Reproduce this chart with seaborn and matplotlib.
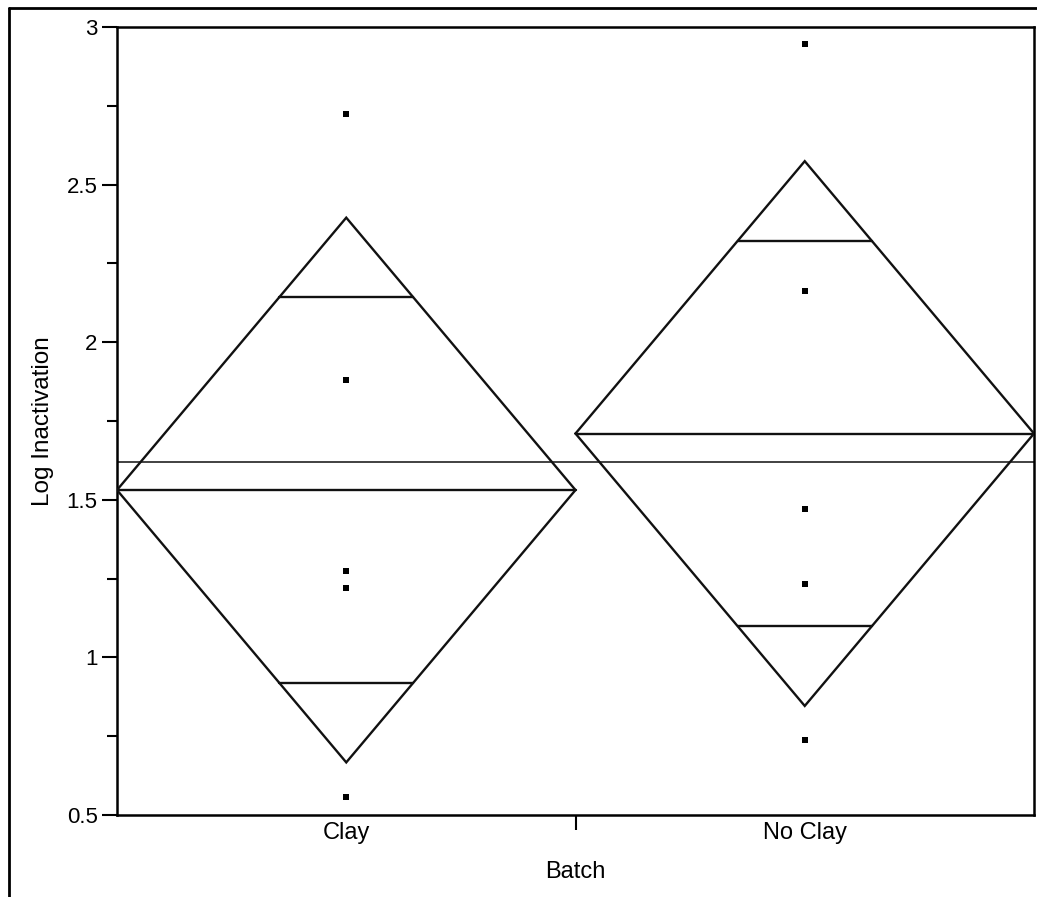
import numpy as np
import pandas as pd
import matplotlib
matplotlib.use("Agg")
import matplotlib.pyplot as plt
from matplotlib.ticker import MultipleLocator, FixedLocator
from matplotlib.lines import Line2D
import seaborn as sns

# ---- data ----
batches = ["Clay", "No Clay"]
clay_values = [2.724, 1.880, 1.274, 1.220, 0.557]
noclay_values = [2.946, 2.162, 1.471, 1.234, 0.738]
y_ticks = [0.5, 1, 1.5, 2, 2.5, 3]
y_tick_labels = ["0.5", "1", "1.5", "2", "2.5", "3"]
t_crit = 2.306  # t(0.975, df=8)

df = pd.DataFrame({
    "Batch": ["Clay"] * len(clay_values) + ["No Clay"] * len(noclay_values),
    "Log Inactivation": clay_values + noclay_values,
})

sns.set_style("ticks")
plt.rcParams["font.family"] = ["Liberation Sans", "DejaVu Sans"]

fig = plt.figure(figsize=(10.37, 8.97), dpi=100)
ax = fig.add_axes([117 / 1037, 1 - 815 / 897, (1034 - 117) / 1037, (815 - 27) / 897])

sns.stripplot(data=df, x="Batch", y="Log Inactivation", order=batches,
              jitter=False, marker="s", size=3.7, color="black",
              linewidth=0, ax=ax, zorder=5)

# means diamonds
groups = [np.array(clay_values), np.array(noclay_values)]
means = [g.mean() for g in groups]
ss = sum(((g - g.mean()) ** 2).sum() for g in groups)
dfree = sum(len(g) for g in groups) - len(groups)
sd_pooled = np.sqrt(ss / dfree)
grand_mean = np.concatenate(groups).mean()

lc = "#111111"
lw = 1.7
for i, (g, m) in enumerate(zip(groups, means)):
    half = t_crit * sd_pooled / np.sqrt(len(g))
    xs = [i - 0.5, i, i + 0.5, i, i - 0.5]
    ys = [m, m + half, m, m - half, m]
    ax.plot(xs, ys, color=lc, lw=lw, zorder=3, solid_joinstyle="miter")
    ax.plot([i - 0.5, i + 0.5], [m, m], color=lc, lw=lw, zorder=3)
    ov = half / np.sqrt(2)
    frac = 1 - ov / half
    for sgn in (1, -1):
        ax.plot([i - 0.5 * frac, i + 0.5 * frac], [m + sgn * ov, m + sgn * ov],
                color=lc, lw=lw, zorder=3)

ax.axhline(grand_mean, color="#333333", lw=1.3, zorder=2)

ax.set_xlim(-0.5, 1.5)
ax.set_ylim(0.5, 3)
ax.yaxis.set_major_locator(FixedLocator(y_ticks))
ax.set_yticklabels(y_tick_labels)
ax.yaxis.set_minor_locator(MultipleLocator(0.25))

# x: labels at categories, no tick marks; one tick between categories
ax.tick_params(axis="x", which="major", length=0, labelsize=17, pad=5, colors="black")
ax.xaxis.set_minor_locator(FixedLocator([0.5]))
ax.tick_params(axis="x", which="minor", length=11, width=1.5, color="black")
ax.tick_params(axis="y", which="major", length=11, width=1.5, labelsize=16, pad=3, colors="black")
ax.tick_params(axis="y", which="minor", length=7, width=1.5, color="black")

ax.set_xlabel("Batch", fontsize=17, labelpad=12, color="black")
ax.set_ylabel("Log Inactivation", fontsize=17.5, labelpad=9, color="black")

for s in ax.spines.values():
    s.set_visible(True)
    s.set_linewidth(1.8)
    s.set_color("black")

# outer frame (left and top edges)
fig.add_artist(Line2D([9 / 1037, 9 / 1037], [0, 1 - 8 / 897], color="black", lw=2,
                      transform=fig.transFigure))
fig.add_artist(Line2D([9 / 1037, 1], [1 - 8 / 897, 1 - 8 / 897], color="black", lw=2,
                      transform=fig.transFigure))

fig.savefig("out.png", dpi=100, facecolor="white")
